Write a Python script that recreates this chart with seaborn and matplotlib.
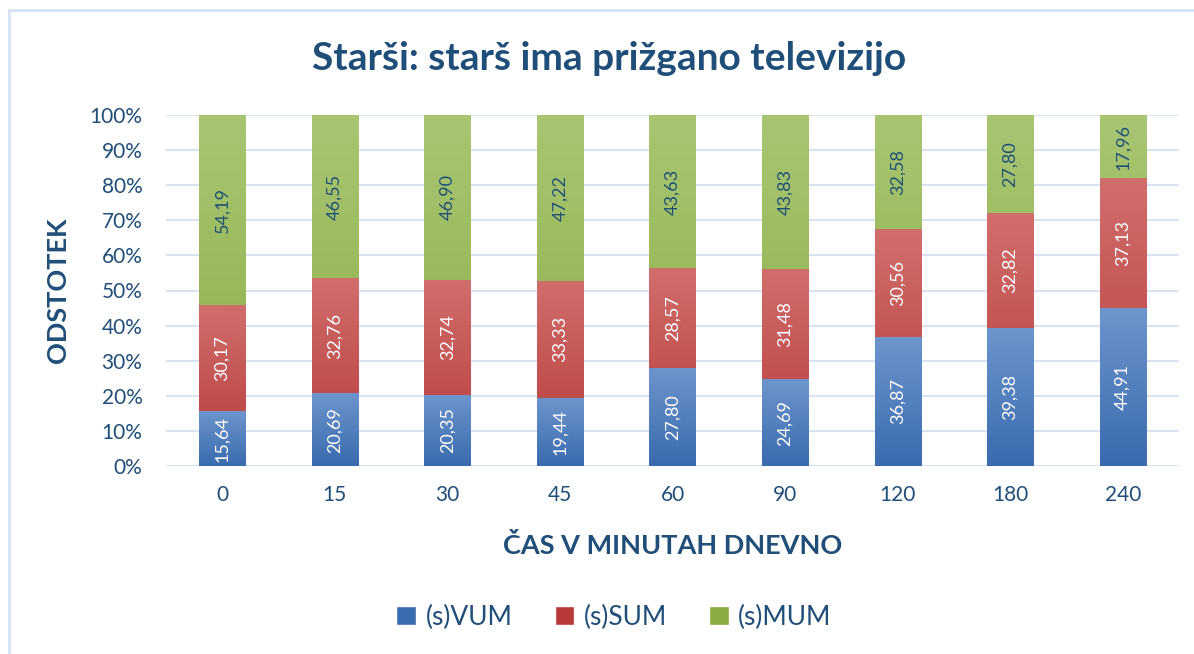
import numpy as np
import pandas as pd
import matplotlib
matplotlib.use("Agg")
import matplotlib.pyplot as plt
import seaborn as sns
from matplotlib.colors import LinearSegmentedColormap
from matplotlib.patches import Rectangle

categories = ["0", "15", "30", "45", "60", "90", "120", "180", "240"]
vum = [15.64, 20.69, 20.35, 19.44, 27.80, 24.69, 36.87, 39.38, 44.91]
sum_ = [30.17, 32.76, 32.74, 33.33, 28.57, 31.48, 30.56, 32.82, 37.13]
mum = [54.19, 46.55, 46.90, 47.22, 43.63, 43.83, 32.58, 27.80, 17.96]
series_names = ["(s)VUM", "(s)SUM", "(s)MUM"]

grad = {
    "(s)VUM": ("#6D95CD", "#3A6BAF"),
    "(s)SUM": ("#D06E6C", "#B73937"),
    "(s)MUM": ("#A8C672", "#8AAC43"),
}
text_col = "#1F4E79"

sns.set_theme(style="white")
plt.rcParams['font.family'] = ['Lato', 'DejaVu Sans']

fig = plt.figure(figsize=(11.94, 6.54), dpi=100)
ax = fig.add_axes([166 / 1194, 1 - 466 / 654, (1179 - 166) / 1194, (466 - 115) / 654])

df = pd.DataFrame({"cat": categories, "v": vum, "s": sum_, "m": mum})
df["cum_s"] = df["v"] + df["s"]
df["cum_m"] = df["cum_s"] + df["m"]

layers = [("cum_m", "(s)MUM"), ("cum_s", "(s)SUM"), ("v", "(s)VUM")]
for col, name in layers:
    n0 = len(ax.patches)
    sns.barplot(data=df, x="cat", y=col, ax=ax, color=grad[name][1], width=0.41,
                saturation=1, linewidth=0, order=categories, errorbar=None)
    for p in ax.patches[n0:]:
        p.set_gid(name)

ax.set_ylim(0, 100)
ax.set_xlim(-0.5, len(categories) - 0.5)

# gradient overlay
for p in list(ax.patches):
    name = p.get_gid()
    if name is None:
        continue
    top, bot = grad[name]
    cmap = LinearSegmentedColormap.from_list("g", [bot, top])
    x0 = p.get_x(); w = p.get_width(); h = p.get_height()
    im = ax.imshow(np.linspace(0, 1, 100).reshape(-1, 1), cmap=cmap, aspect="auto",
                   extent=[x0, x0 + w, 0, h], origin="lower", zorder=p.get_zorder() + 0.1)
    im.set_clip_path(p)
ax.set_aspect("auto")
ax.set_xlim(-0.5, len(categories) - 0.5)
ax.set_ylim(0, 100)

# labels
fs = 13
for i in range(len(categories)):
    ax.text(i, vum[i] / 2, f"{vum[i]:.2f}".replace(".", ","), rotation=90, ha="center",
            va="center", color="white", fontsize=fs, zorder=10)
    ax.text(i, vum[i] + sum_[i] / 2, f"{sum_[i]:.2f}".replace(".", ","), rotation=90,
            ha="center", va="center", color="white", fontsize=fs, zorder=10)
    ax.text(i, vum[i] + sum_[i] + mum[i] / 2, f"{mum[i]:.2f}".replace(".", ","), rotation=90,
            ha="center", va="center", color=text_col, fontsize=fs, zorder=10)

ax.set_yticks(range(0, 101, 10))
ax.set_yticklabels([f"{v}%" for v in range(0, 101, 10)])
ax.yaxis.grid(True, color="#D9E3F1", linewidth=1.5)
ax.set_axisbelow(True)
for s in ["top", "right", "left", "bottom"]:
    ax.spines[s].set_visible(False)
ax.tick_params(axis="both", length=0, labelsize=15, labelcolor=text_col)
ax.tick_params(axis="x", pad=14)
ax.tick_params(axis="y", pad=17)
ax.set_xlabel("ČAS V MINUTAH DNEVNO", fontsize=19.5, fontweight="bold", color=text_col, labelpad=20)
ax.set_ylabel("ODSTOTEK", fontsize=19.5, fontweight="bold", color=text_col, labelpad=14)

fig.text(609 / 1194, 1 - 58 / 654, "Starši: starš ima prižgano televizijo", ha="center",
         va="center", fontsize=28, fontweight="bold", color=text_col)

handles = [Rectangle((0, 0), 1, 1, facecolor=grad[n][1]) for n in series_names]
fig.legend(handles, series_names, loc="center", bbox_to_anchor=(614 / 1194, 1 - 617 / 654),
           ncol=3, frameon=False, fontsize=19, labelcolor=text_col, handlelength=0.75,
           handleheight=0.75, columnspacing=1.6, handletextpad=0.35)

fig.patches.append(Rectangle((9 / 1194, -0.1), 1.2, 1.1 - 10 / 654, transform=fig.transFigure,
                             fill=False, edgecolor="#D6E2F3", linewidth=2))

fig.savefig("out.png", dpi=100)
